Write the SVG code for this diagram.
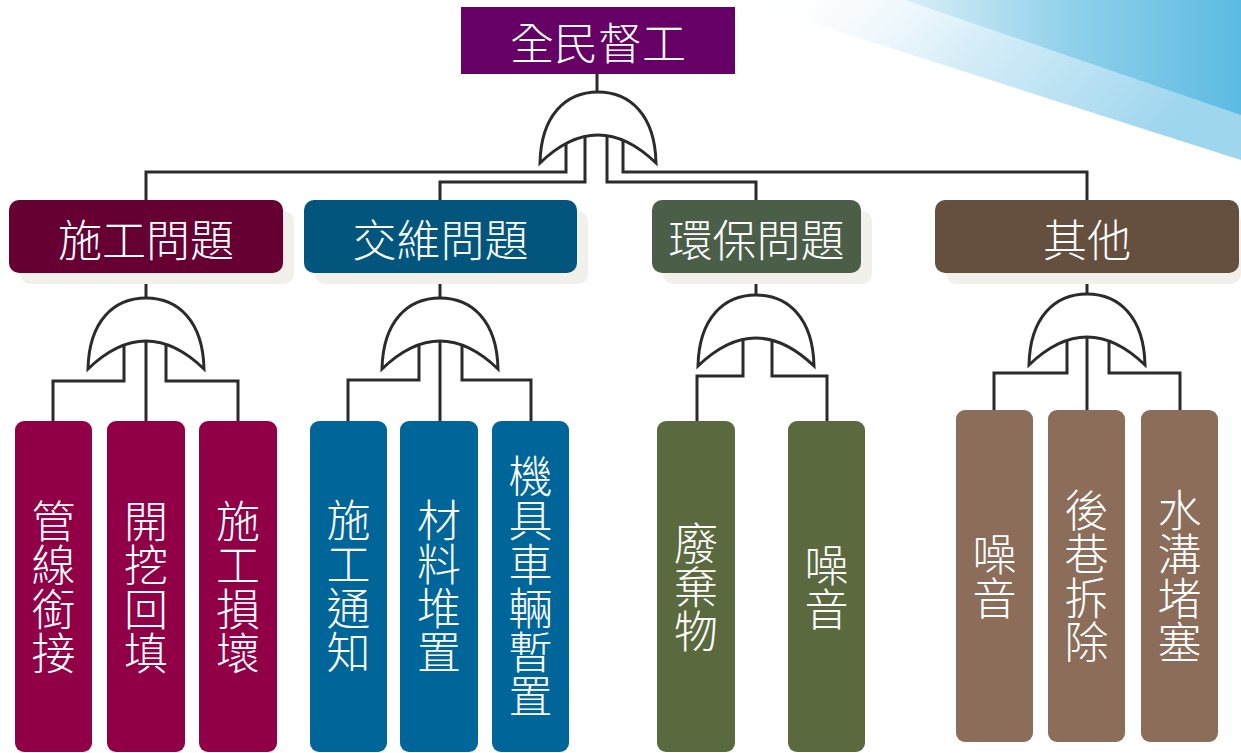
<svg xmlns="http://www.w3.org/2000/svg" xmlns:xlink="http://www.w3.org/1999/xlink" width="1241" height="753" viewBox="0 0 1241 753">
<style>
text{font-family:"Noto Sans CJK TC","Noto Sans CJK SC",sans-serif;font-weight:300;fill:#ffffff;text-anchor:middle;dominant-baseline:central;font-size:44px}
.v{writing-mode:vertical-rl;glyph-orientation-vertical:0}
.ln{fill:none;stroke:#2b2b2b;stroke-width:3}
.gate{fill:#ffffff;stroke:#2b2b2b;stroke-width:3;stroke-linejoin:miter}
.sh{fill:#f2f0ea}
</style>
<defs>
<linearGradient id="bgA" x1="0" y1="0" x2="1" y2="0.3">
<stop offset="0" stop-color="#ffffff" stop-opacity="0"/>
<stop offset="0.5" stop-color="#d6eef8"/>
<stop offset="1" stop-color="#9ed6ee"/>
</linearGradient>
<linearGradient id="bgB" x1="0" y1="0" x2="1" y2="0">
<stop offset="0" stop-color="#d9eff8"/>
<stop offset="0.5" stop-color="#8fd0ea"/>
<stop offset="1" stop-color="#5cbbe2"/>
</linearGradient>
<path id="gate" d="M-58,71 C-57,23 -32,0 0,0 C32,0 57,23 58,71 Q0,15 -58,71 Z"/>
</defs>
<rect width="1241" height="753" fill="#ffffff"/>
<g id="background">
<polygon points="740,0 1241,0 1241,160" fill="url(#bgA)"/>
<polygon points="905,0 1241,0 1241,115" fill="url(#bgB)"/>
</g>
<g id="connectors">
<path class="ln" d="M597,74 V95"/>
<path class="ln" d="M566,140 V172 H146 V200"/>
<path class="ln" d="M585,130 V182 H440 V200"/>
<path class="ln" d="M607,130 V182 H756 V200"/>
<path class="ln" d="M623,140 V172 H1087 V200"/>
<path class="ln" d="M146,273 V300"/>
<path class="ln" d="M124,340 V381 H53 V421"/>
<path class="ln" d="M146,330 V421"/>
<path class="ln" d="M166,340 V381 H238 V421"/>
<path class="ln" d="M440,273 V300"/>
<path class="ln" d="M419,340 V380 H348 V421"/>
<path class="ln" d="M440,330 V421"/>
<path class="ln" d="M462,340 V380 H531 V421"/>
<path class="ln" d="M756,273 V297"/>
<path class="ln" d="M743,330 V376 H697 V421"/>
<path class="ln" d="M772,330 V376 H827 V421"/>
<path class="ln" d="M1087,273 V296"/>
<path class="ln" d="M1067,330 V373 H994 V410"/>
<path class="ln" d="M1087,320 V410"/>
<path class="ln" d="M1109,330 V373 H1180 V410"/>
</g>
<g id="gates">
<use xlink:href="#gate" href="#gate" class="gate" x="598" y="92"/>
<use xlink:href="#gate" href="#gate" class="gate" x="146" y="298"/>
<use xlink:href="#gate" href="#gate" class="gate" x="440" y="298"/>
<use xlink:href="#gate" href="#gate" class="gate" x="756" y="295"/>
<use xlink:href="#gate" href="#gate" class="gate" x="1087" y="294"/>
</g>
<g id="top">
<rect x="461" y="7" width="274" height="67" fill="#660066"/>
<text x="598" y="41">全民督工</text>
</g>
<g id="cat1">
<rect class="sh" x="20" y="211" width="274" height="73" rx="10"/>
<rect x="9" y="200" width="274" height="73" rx="10" fill="#660033"/>
<text x="146" y="238">施工問題</text>
</g>
<g id="cat2">
<rect class="sh" x="315" y="211" width="273" height="73" rx="10"/>
<rect x="304" y="200" width="273" height="73" rx="10" fill="#02557c"/>
<text x="440.5" y="238">交維問題</text>
</g>
<g id="cat3">
<rect class="sh" x="663" y="211" width="209" height="73" rx="10"/>
<rect x="652" y="200" width="209" height="73" rx="10" fill="#4a5e48"/>
<text x="756.5" y="238">環保問題</text>
</g>
<g id="cat4">
<rect class="sh" x="946" y="211" width="295" height="73" rx="10"/>
<rect x="935" y="200" width="304" height="73" rx="10" fill="#654f3f"/>
<text x="1087" y="238">其他</text>
</g>
<g id="leaf1a"><rect x="15" y="421" width="77" height="331" rx="9" fill="#910046"/>
<text class="v" x="53.5" y="587">管線銜接</text></g>
<g id="leaf1b"><rect x="107" y="421" width="78" height="331" rx="9" fill="#910046"/>
<text class="v" x="146" y="587">開挖回填</text></g>
<g id="leaf1c"><rect x="199" y="421" width="78" height="331" rx="9" fill="#910046"/>
<text class="v" x="238" y="587">施工損壞</text></g>
<g id="leaf2a"><rect x="310" y="421" width="77" height="331" rx="9" fill="#006699"/>
<text class="v" x="348.5" y="586">施工通知</text></g>
<g id="leaf2b"><rect x="400" y="421" width="78" height="331" rx="9" fill="#006699"/>
<text class="v" x="439" y="586">材料堆置</text></g>
<g id="leaf2c"><rect x="492" y="421" width="77" height="331" rx="9" fill="#006699"/>
<text class="v" x="530.5" y="586">機具車輛暫置</text></g>
<g id="leaf3a"><rect x="657" y="421" width="78" height="331" rx="9" fill="#5a6a3e"/>
<text class="v" x="696" y="587">廢棄物</text></g>
<g id="leaf3b"><rect x="788" y="421" width="77" height="331" rx="9" fill="#5a6a3e"/>
<text class="v" x="826.5" y="587">噪音</text></g>
<g id="leaf4a"><rect x="956" y="410" width="77" height="332" rx="9" fill="#8b6d59"/>
<text class="v" x="994.5" y="576">噪音</text></g>
<g id="leaf4b"><rect x="1048" y="410" width="77" height="332" rx="9" fill="#8b6d59"/>
<text class="v" x="1086.5" y="576">後巷拆除</text></g>
<g id="leaf4c"><rect x="1141" y="410" width="77" height="332" rx="9" fill="#8b6d59"/>
<text class="v" x="1179.5" y="576">水溝堵塞</text></g>
</svg>
